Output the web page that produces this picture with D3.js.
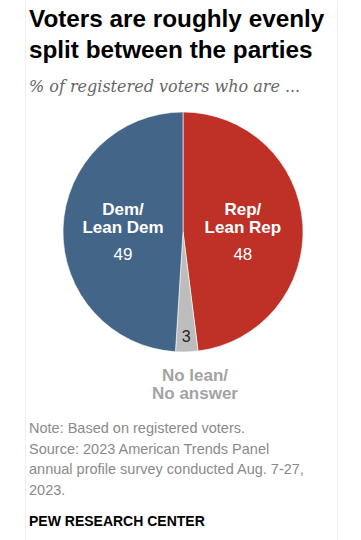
<!DOCTYPE html>
<html>
<head>
<meta charset="utf-8">
<script src="https://cdn.jsdelivr.net/npm/d3@7"></script>
<style>
  body { margin: 0; background: #fff; }
  svg text { font-family: "Liberation Sans", Arial, sans-serif; }
</style>
</head>
<body>
<div id="chart"></div>
<script>
const width = 361, height = 540;

// data, in draw order clockwise from 12 o'clock
const parties = ["Rep/Lean Rep", "No lean/No answer", "Dem/Lean Dem"];
const shares = [48, 3, 49];
const colors = ["#bf3027", "#bdbdbd", "#436588"];

const svg = d3.select("#chart").append("svg").attr("width", width).attr("height", height)

// faint card edges
svg.append("line").attr("x1", 25.5).attr("x2", 25.5).attr("y1", 0).attr("y2", height)
  .attr("stroke", "#f0f0f0")
svg.append("line").attr("x1", 337.5).attr("x2", 337.5).attr("y1", 0).attr("y2", height)
  .attr("stroke", "#f0f0f0")

// title + subtitle
const title = svg.append("text").attr("x", 29).attr("y", 27)
  .style("font-size", "24.3px").style("font-weight", "bold").style("fill", "#000")
title.append("tspan").attr("x", 29).text("Voters are roughly evenly")
title.append("tspan").attr("x", 29).attr("y", 58).text("split between the parties")

svg.append("text").attr("x", 29).attr("y", 92)
  .text("% of registered voters who are ...")
  .style("font-family", "'DejaVu Serif', Georgia, serif")
  .style("font-style", "italic")
  .style("font-size", "16px")
  .style("fill", "#666")

// pie
const cx = 183, cy = 232, r = 120;
const pie = d3.pie().sort(null).value(d => d)
const arc = d3.arc().innerRadius(0).outerRadius(r)
const g = svg.append("g").attr("transform", `translate(${cx},${cy})`)
const arcs = pie(shares)

g.selectAll("path").data(arcs).join("path")
  .attr("d", arc)
  .attr("fill", (d, i) => colors[i])
  .attr("stroke", "#fff")
  .attr("stroke-width", 0.6)

// slice labels
function bigLabel(d, i) {
  const lines = parties[i].split("/")
  const a = (d.startAngle + d.endAngle) / 2
  const x = Math.sin(a) * r * 0.5
  const t = g.append("text").attr("text-anchor", "middle")
    .style("font-size", "17px").style("font-weight", "bold").style("fill", "#fff")
  t.append("tspan").attr("x", x).attr("y", -17).text(lines[0] + "/")
  t.append("tspan").attr("x", x).attr("y", 1).text(lines[1])
  g.append("text").attr("x", x).attr("y", 28).attr("text-anchor", "middle")
    .style("font-size", "17px").style("fill", "#fff").text(shares[i])
}
bigLabel(arcs[0], 0)
bigLabel(arcs[2], 2)

// small slice value
const a1 = (arcs[1].startAngle + arcs[1].endAngle) / 2
g.append("text")
  .attr("x", Math.sin(a1) * r * 0.87)
  .attr("y", -Math.cos(a1) * r * 0.87 + 6)
  .attr("text-anchor", "middle")
  .style("font-size", "16px").style("fill", "#222").text(shares[1])

// outside label for small slice
const nlLines = parties[1].split("/")
const nl = svg.append("text").attr("text-anchor", "middle")
  .style("font-size", "17px").style("font-weight", "bold").style("fill", "#a3a3a3")
nl.append("tspan").attr("x", 195).attr("y", 381).text(nlLines[0] + "/")
nl.append("tspan").attr("x", 195).attr("y", 399).text(nlLines[1])

// notes
const notes = ["Note: Based on registered voters.",
  "Source: 2023 American Trends Panel",
  "annual profile survey conducted Aug. 7-27,",
  "2023."]
svg.selectAll(".note").data(notes).join("text")
  .attr("class", "note")
  .attr("x", 29)
  .attr("y", (d, i) => 433 + i * 20.7)
  .text(d => d)
  .style("font-size", "14.5px")
  .style("fill", "#8a8a8a")

svg.append("text").attr("x", 29).attr("y", 526)
  .text("PEW RESEARCH CENTER")
  .style("font-size", "14px").style("font-weight", "bold").style("fill", "#000")
</script>
</body>
</html>
